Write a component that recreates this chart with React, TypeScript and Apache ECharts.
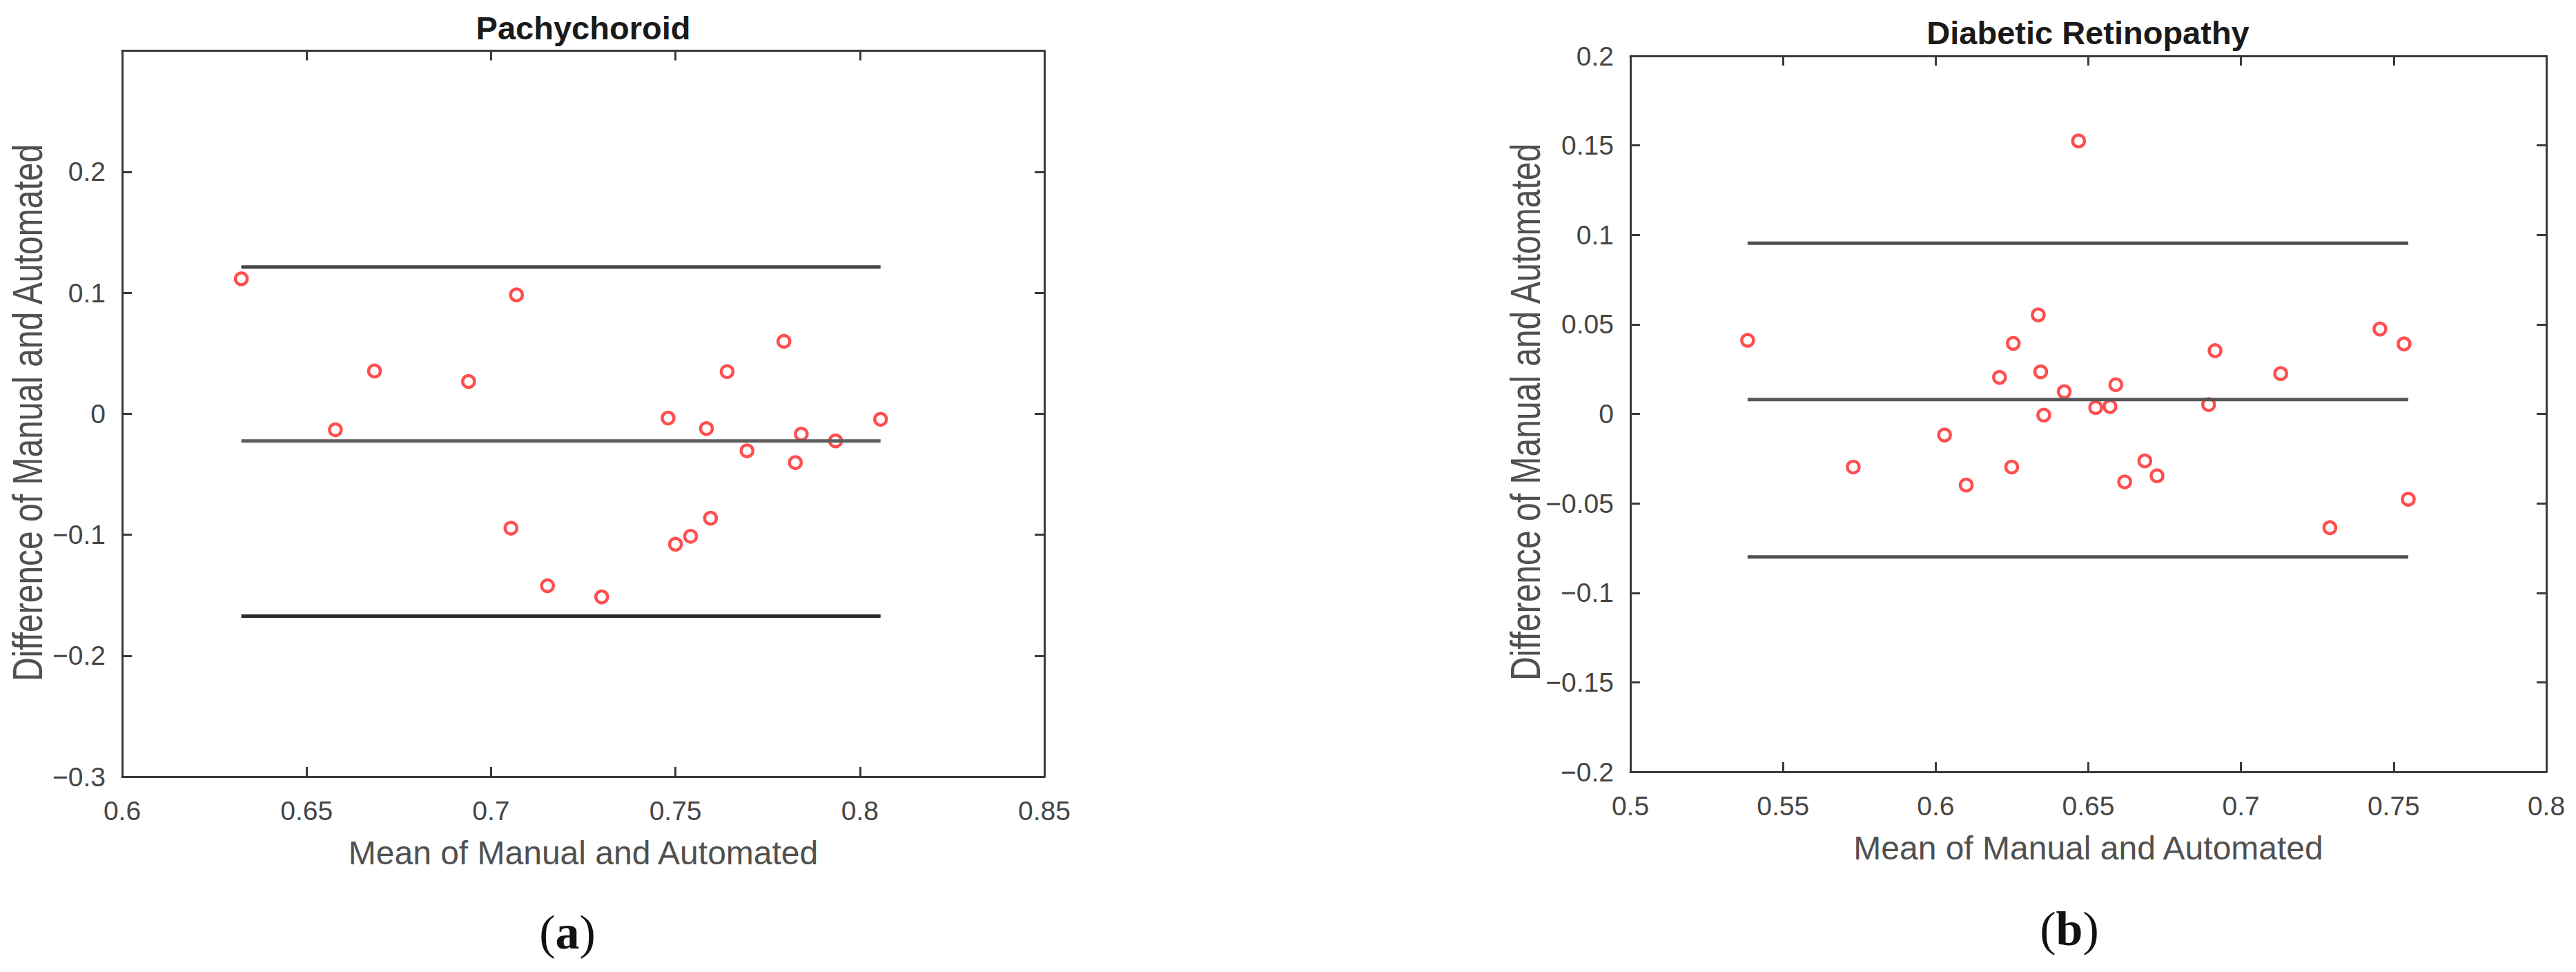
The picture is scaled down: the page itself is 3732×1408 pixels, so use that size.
import React, { useEffect, useRef } from "react";
import * as echarts from "echarts";

// ---- Data: Pachychoroid (a) ----
const pachyMean = [0.6323, 0.6578, 0.6684, 0.6939, 0.7069, 0.7054, 0.7153, 0.73, 0.748, 0.75, 0.7541, 0.7584, 0.7595, 0.764, 0.7694, 0.7794, 0.7825, 0.7841, 0.7934, 0.8056];
const pachyDiff = [0.1115, -0.0133, 0.0353, 0.0266, 0.0982, -0.0946, -0.1422, -0.1514, -0.0036, -0.1079, -0.1013, -0.0123, -0.0864, 0.0348, -0.0307, 0.0598, -0.0404, -0.0169, -0.0225, -0.0046];
const pachyLimits = [0.1212, -0.0225, -0.1673]; // upper LoA, mean, lower LoA
const pachyXTicks = [0.6, 0.65, 0.7, 0.75, 0.8, 0.85];
const pachyYTicks = [-0.3, -0.2, -0.1, 0, 0.1, 0.2, 0.3];

// ---- Data: Diabetic Retinopathy (b) ----
const drMean = [0.5384, 0.573, 0.6029, 0.61, 0.6209, 0.6249, 0.6254, 0.6336, 0.6344, 0.6354, 0.6421, 0.6468, 0.6524, 0.6571, 0.659, 0.6619, 0.6685, 0.6725, 0.6894, 0.6915, 0.713, 0.7291, 0.7455, 0.7534, 0.7548];
const drDiff = [0.0411, -0.0297, -0.0118, -0.0398, 0.0204, -0.0297, 0.0394, 0.0553, 0.0235, -0.0007, 0.0124, 0.1525, 0.0035, 0.0041, 0.0163, -0.038, -0.0263, -0.0346, 0.0052, 0.0353, 0.0225, -0.0636, 0.0474, 0.0391, -0.0477];
const drLimits = [0.0954, 0.008, -0.0799];
const drXTicks = [0.5, 0.55, 0.6, 0.65, 0.7, 0.75, 0.8];
const drYTicks = [-0.2, -0.15, -0.1, -0.05, 0, 0.05, 0.1, 0.15, 0.2];

const titles = ["Pachychoroid", "Diabetic Retinopathy"];
const panelLabels = ["a", "b"];
const xName = "Mean of Manual and Automated";
const yName = "Difference of Manual and Automated";

const FONT = "'Liberation Sans', Arial, Helvetica, sans-serif";
const SERIF = "'Liberation Serif', 'DejaVu Serif', serif";
const AXIS_COLOR = "#3a3a3a";
const LABEL_COLOR = "#454545";

function fmt(v: number, hideTop?: number) {
  const r = Math.round(v * 1000) / 1000;
  if (hideTop !== undefined && Math.abs(r - hideTop) < 1e-9) return "";
  if (r === 0) return "0";
  return (r < 0 ? "\u2212" : "") + String(Math.abs(r));
}

function App() {
  const ref = useRef<HTMLDivElement>(null);
  useEffect(() => {
    document.body.style.margin = "0";
    if (!ref.current) return;
    const chart = echarts.init(ref.current, undefined, { renderer: "svg" });

    const grids = [
      { left: 177, top: 73.5, width: 1336, height: 1051.5 },
      { left: 2362, top: 81, width: 1327, height: 1037 },
    ];
    const xTicks = [pachyXTicks, drXTicks];
    const yTicks = [pachyYTicks, drYTicks];
    const hideTopY = [0.3, undefined];

    const axisLine = { show: true, onZero: false, lineStyle: { color: AXIS_COLOR, width: 3 } };
    const axisTick = { show: true, inside: true, length: 14, lineStyle: { color: AXIS_COLOR, width: 3 } };

    const xAxes: any[] = [];
    const yAxes: any[] = [];
    [0, 1].forEach((g) => {
      const xt = xTicks[g];
      const yt = yTicks[g];
      const xBase = {
        type: "value", gridIndex: g,
        min: xt[0], max: xt[xt.length - 1], interval: Math.round((xt[1] - xt[0]) * 1000) / 1000,
        axisLine, axisTick, splitLine: { show: false },
      };
      const yBase = {
        type: "value", gridIndex: g,
        min: yt[0], max: yt[yt.length - 1], interval: Math.round((yt[1] - yt[0]) * 1000) / 1000,
        axisLine, axisTick, splitLine: { show: false },
      };
      xAxes.push({
        ...xBase, position: "bottom",
        axisLabel: { fontSize: 39, color: LABEL_COLOR, fontFamily: FONT, margin: 30, formatter: (v: number) => fmt(v) },
        name: xName, nameLocation: "middle", nameGap: 86,
        nameTextStyle: { fontSize: 48, color: "#505050", fontFamily: FONT },
      });
      xAxes.push({ ...xBase, position: "top", axisLabel: { show: false } });
      yAxes.push({
        ...yBase, position: "left",
        axisLabel: { fontSize: 39, color: LABEL_COLOR, fontFamily: FONT, margin: 24, formatter: (v: number) => fmt(v, hideTopY[g]) },
      });
      yAxes.push({ ...yBase, position: "right", axisLabel: { show: false } });
    });

    const means = [pachyMean, drMean];
    const diffs = [pachyDiff, drDiff];
    const limits = [pachyLimits, drLimits];
    const limitColors = [
      ["#444444", "#5e5e5e", "#2c2c2c"],
      ["#505050", "#555555", "#505050"],
    ];

    const series: any[] = [];
    [0, 1].forEach((g) => {
      series.push({
        type: "scatter",
        xAxisIndex: g * 2, yAxisIndex: g * 2,
        data: means[g].map((m, i) => [m, diffs[g][i]]),
        symbol: "circle", symbolSize: 17,
        itemStyle: { color: "rgba(255,255,255,0)", borderColor: "#ff2222", borderWidth: 4.5 },
        z: 2,
      });
      const xmin = Math.min(...means[g]);
      const xmax = Math.max(...means[g]);
      limits[g].forEach((val, k) => {
        series.push({
          type: "line",
          xAxisIndex: g * 2, yAxisIndex: g * 2,
          data: [[xmin, val], [xmax, val]],
          showSymbol: false, symbol: "none",
          lineStyle: { color: limitColors[g][k], width: 5 },
          z: 3,
        });
      });
    });

    const yLabel = (x: number, y: number) => ({
      type: "text", x, y, rotation: Math.PI / 2, scaleY: 1.28,
      style: { text: yName, align: "center", verticalAlign: "middle", font: `48px ${FONT}`, fill: "#505050" },
    });
    const panel = (x: number, y: number, t: string) => ({
      type: "text", x, y,
      style: {
        text: `{p|(}{b|${t}}{p|)}`, align: "center", verticalAlign: "middle",
        rich: {
          p: { fontFamily: SERIF, fontSize: 70, fill: "#111" },
          b: { fontFamily: SERIF, fontSize: 70, fontWeight: "bold", fill: "#111" },
        },
      },
    });

    const option: any = {
      animation: false,
      backgroundColor: "#ffffff",
      grid: grids,
      xAxis: xAxes,
      yAxis: yAxes,
      series,
      graphic: [
        { type: "text", x: 845, y: 40, style: { text: titles[0], align: "center", verticalAlign: "middle", font: `bold 47px ${FONT}`, fill: "#1a1a1a" } },
        { type: "text", x: 3025, y: 47, style: { text: titles[1], align: "center", verticalAlign: "middle", font: `bold 47px ${FONT}`, fill: "#1a1a1a" } },
        yLabel(40, 598),
        yLabel(2210, 597),
        panel(822, 1350, panelLabels[0]),
        panel(2998, 1345, panelLabels[1]),
      ],
    };
    chart.setOption(option);
    return () => chart.dispose();
  }, []);
  return <div ref={ref} style={{ width: 3732, height: 1408 }} />;
}

export default App;
